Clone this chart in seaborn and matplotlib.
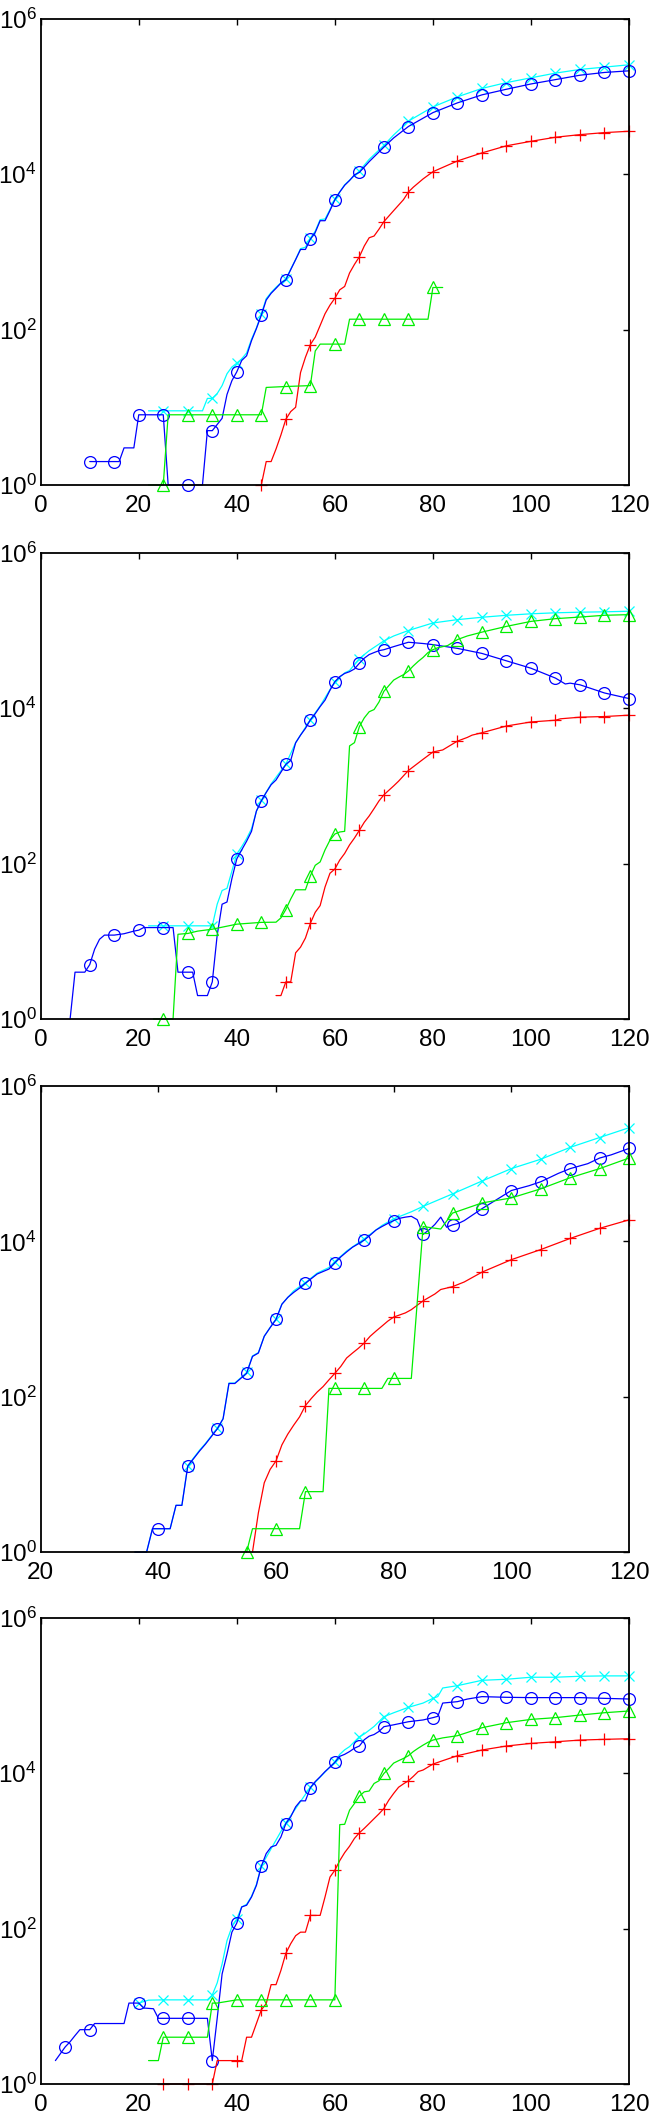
import matplotlib
matplotlib.use("Agg")
import matplotlib.pyplot as plt
import seaborn as sns

sns.set_theme(style="white")
plt.rcParams["font.family"] = ["Liberation Sans", "DejaVu Sans"]
plt.rcParams["mathtext.default"] = "regular"

# ---- panel 1 ----
p1_cyan_x = [22, 25, 30, 33, 34, 35, 36, 37, 38, 39, 40, 41, 42, 43, 44, 45, 46, 47, 48, 49, 50,
             52, 53, 54, 55, 56, 57, 58, 59, 60, 62, 65, 67, 70, 72, 75, 80, 85, 90, 95, 100, 105, 110, 115, 120]
p1_cyan_y = [9, 9, 9, 9, 13, 13, 15, 19, 27, 33, 37, 42, 50, 75, 105, 160, 250, 300, 350, 400, 450,
             800, 1100, 1150, 1500, 1850, 2600, 2650, 3500, 4800, 7300, 11000, 15500, 23500, 32000, 48200,
             73500, 99000, 127000, 151000, 174000, 200000, 223000, 239000, 256000]
p1_blue_x = [10, 15, 16, 17, 19, 20, 25, 26, 30, 33, 34, 35, 37, 38, 39, 40, 41, 42, 43, 44, 45, 46, 47,
             48, 49, 50, 51, 52, 53, 54, 55, 56, 57, 58, 59, 60, 61, 62, 63, 64, 65, 67, 70, 72, 75, 80,
             85, 90, 95, 100, 105, 110, 115, 120]
p1_blue_y = [2, 2, 2, 3, 3, 8, 8, 1, 1, 1, 5, 5, 7.2, 14.6, 22, 28.6, 40, 46, 72, 103, 153, 240, 293,
             340, 397, 437, 591, 795, 1075, 1075, 1456, 1780, 2520, 2520, 3400, 4690, 5900, 7200, 8300,
             9800, 10550, 14500, 22300, 29300, 41100, 62000, 82800, 105000, 124000, 145000, 165000,
             188000, 204000, 214000]
p1_red_x = [45, 46, 47, 48, 49, 50, 51, 52, 53, 54, 55, 56, 57, 58, 59, 60, 61, 62, 63, 64, 65, 66, 67,
            68, 69, 70, 72, 74, 75, 76, 78, 80, 85, 90, 95, 100, 105, 110, 115, 120]
p1_red_y = [1, 2, 2, 2.9, 4.4, 7, 8.8, 10, 28, 44, 64, 80, 113, 160, 206, 253, 325, 359, 535, 690, 865,
            1190, 1520, 1600, 1960, 2450, 3400, 4700, 5900, 6800, 8700, 10760, 14800, 18800, 23200,
            26500, 29900, 32300, 34300, 35700]
p1_green_x = [22, 25, 26, 30, 35, 40, 45, 46, 50, 55, 56, 57, 60, 62, 63, 65, 70, 75, 79, 80, 82]
p1_green_y = [1, 1, 8, 8, 8, 8, 8, 18, 18.5, 19, 53, 65, 65, 65, 136, 136, 136, 136, 136, 348, 348]

# ---- panel 2 ----
p2_cyan_x = [22, 25, 30, 35, 36, 37, 38, 39, 40, 41, 42, 43, 44, 45, 47, 50, 52, 55, 57, 60, 62, 63,
             65, 67, 70, 72, 75, 80, 85, 90, 95, 100, 105, 110, 115, 120]
p2_cyan_y = [15.8, 15.8, 15.8, 15.8, 30, 45, 48, 80, 133, 165, 210, 280, 470, 650, 1060, 1900, 3600,
             7100, 10700, 22000, 28500, 30500, 43600, 55000, 73500, 85000, 100000, 125000, 138000,
             148000, 157000, 164000, 169000, 172000, 174000, 177000]
p2_blue_x = [6, 7, 9, 10, 11, 12, 13, 15, 17, 19, 20, 21, 25, 27, 28, 30, 31, 32, 34, 35, 36, 37, 38,
             39, 40, 41, 42, 43, 44, 45, 46, 47, 48, 49, 50, 51, 52, 53, 54, 55, 56, 57, 58, 59, 60,
             61, 62, 63, 64, 65, 66, 67, 68, 69, 70, 72, 75, 78, 80, 85, 90, 95, 100, 105, 107, 108,
             110, 115, 120]
p2_blue_y = [1, 4, 4, 5, 7.9, 10.6, 12, 12, 12.5, 13.5, 13.9, 15, 15, 15, 4, 4, 4, 2, 2, 3, 12, 30,
             32, 64, 115, 150, 194, 260, 475, 641, 822, 1035, 1190, 1500, 1888, 2130, 3580, 4500,
             5500, 7070, 8500, 10500, 12700, 17000, 21900, 25500, 28000, 29500, 32000, 37900, 44000,
             49000, 52000, 55000, 56600, 62000, 70600, 68000, 65800, 58900, 50700, 40700, 32700,
             24400, 20500, 21000, 20000, 15700, 13300]
p2_red_x = [48, 49, 50, 51, 52, 53, 54, 55, 56, 57, 58, 59, 60, 61, 62, 63, 64, 65, 66, 67, 68, 69,
            70, 72, 73, 75, 78, 80, 82, 85, 87, 88, 90, 95, 100, 105, 106, 110, 115, 120]
p2_red_y = [2, 2, 3, 3, 7.1, 8.4, 11, 17, 23.6, 28.8, 50, 75, 85, 111, 135, 174, 213, 268, 340, 410,
            510, 640, 767, 1000, 1150, 1577, 2200, 2730, 2900, 3770, 4200, 4500, 4830, 5900, 6650,
            7000, 7300, 7660, 7810, 8130]
p2_green_x = [23, 25, 27, 28, 30, 32, 35, 40, 45, 48, 49, 50, 51, 52, 54, 55, 56, 57, 58, 59, 60, 61,
              62, 63, 64, 65, 66, 67, 68, 69, 70, 71, 72, 73, 74, 75, 76, 77, 78, 79, 80, 81, 83, 85,
              87, 90, 95, 100, 105, 110, 115, 120]
p2_green_y = [1, 1, 1, 12.3, 12.6, 13.5, 14.3, 16.6, 17.5, 17.6, 20, 25.6, 35, 46, 46, 69.5, 95, 105,
              150, 200, 240, 255, 260, 3270, 3600, 5780, 7500, 9000, 9600, 12000, 16500, 19500, 23000,
              25000, 27000, 30100, 35000, 40000, 45000, 52000, 56600, 60000, 64000, 76400, 85000,
              95300, 113000, 131000, 142000, 149000, 157000, 160000]

# ---- panel 3 ----
p3_cyan_x = [36, 38, 39, 42, 43, 44, 45, 47, 48, 50, 51, 52, 53, 54, 55, 56, 57, 58, 59, 60, 61, 63,
             65, 67, 69, 70, 72, 75, 78, 80, 83, 85, 90, 95, 100, 105, 110, 115, 120]
p3_cyan_y = [1, 1, 2, 2, 4, 4, 13, 20.5, 25, 39, 52, 150, 150, 175, 205, 335, 370, 600, 780, 1000,
             1560, 2300, 2950, 3900, 4600, 5500, 7500, 10800, 16000, 19500, 24000, 28200, 40800,
             59700, 86300, 114000, 162000, 217000, 290000]
p3_blue_x = [36, 38, 39, 40, 42, 43, 44, 45, 47, 48, 50, 51, 52, 53, 54, 55, 56, 57, 58, 59, 60, 61,
             62, 63, 64, 65, 67, 69, 70, 71, 72, 73, 74, 75, 76, 77, 78, 79, 80, 81, 82, 83, 84, 85,
             86, 87, 88, 89, 90, 91, 92, 95, 100, 103, 105, 108, 110, 113, 115, 117, 120]
p3_blue_y = [1, 1, 2, 2, 2, 4, 4, 12.8, 20, 24.5, 38.4, 52, 148, 148, 172, 200, 330, 365, 600, 775,
             990, 1550, 1900, 2200, 2500, 2890, 3800, 4400, 5310, 6300, 7300, 8400, 9300, 10400,
             12000, 14000, 15500, 17000, 18500, 19800, 20500, 21000, 19000, 12300, 14000, 16500,
             20500, 15200, 16300, 17000, 18500, 26300, 45100, 52000, 58500, 75000, 86300, 100000,
             118000, 130000, 157000]
p3_red_x = [56, 57, 58, 59, 60, 61, 62, 63, 64, 65, 66, 67, 68, 69, 70, 71, 72, 73, 74, 75, 76, 77,
            78, 79, 80, 82, 83, 85, 87, 88, 90, 92, 95, 100, 105, 110, 115, 120]
p3_red_y = [1, 3.2, 7.8, 11.6, 14.9, 24, 33, 43, 55, 77, 95, 115, 135, 165, 200, 245, 315, 365, 420,
            492, 600, 700, 810, 940, 1060, 1200, 1320, 1715, 2100, 2400, 2610, 3000, 4010, 5810,
            7840, 10900, 14700, 18900]
p3_green_x = [55, 56, 60, 64, 65, 68, 69, 70, 75, 78, 79, 80, 83, 85, 88, 90, 91, 95, 100, 105, 110,
              115, 120]
p3_green_y = [1, 2, 2, 2, 6, 6, 128, 128, 128, 128, 172, 172, 172, 15500, 14400, 23100, 24500, 31200,
              36200, 47400, 65900, 86300, 118000]

# ---- panel 4 ----
p4_cyan_x = [20, 22, 25, 30, 34, 35, 36, 37, 38, 39, 40, 41, 42, 43, 44, 45, 50, 55, 60, 61, 62, 63,
             65, 66, 68, 70, 72, 75, 78, 80, 81, 82, 85, 90, 95, 100, 105, 110, 115, 120]
p4_cyan_y = [11, 12, 12.1, 12.1, 12.1, 14, 20, 35, 70, 105, 134, 190, 205, 260, 370, 640, 2300, 6600,
             14000, 17500, 20000, 22000, 29500, 32000, 40000, 53400, 60000, 70500, 80000, 92000,
             97000, 125000, 134000, 157000, 162000, 172000, 172000, 177000, 179000, 179000]
p4_blue_x = [3, 5, 6, 7, 8, 10, 11, 17, 18, 20, 21, 23, 24, 25, 30, 34, 35, 36, 37, 38, 39, 40, 41,
             42, 43, 44, 45, 46, 47, 48, 49, 50, 51, 52, 53, 54, 55, 56, 57, 58, 59, 60, 61, 62, 63,
             64, 65, 66, 67, 68, 69, 70, 72, 75, 78, 80, 81, 82, 85, 87, 90, 95, 100, 105, 110, 115,
             120]
p4_blue_y = [2, 3, 3.5, 4.2, 5, 5, 6, 6, 11, 11, 9.5, 9.3, 7, 7, 7, 7, 2, 7, 26, 47, 90, 118, 190,
             200, 255, 360, 634, 925, 1125, 1180, 1510, 2250, 2750, 3690, 4410, 4410, 6490, 7800,
             9000, 10500, 12000, 13800, 16500, 17500, 19000, 21000, 22400, 27000, 30000, 31500,
             34500, 39700, 42000, 46000, 48500, 51900, 54000, 80000, 83400, 90000, 96800, 94900,
             94000, 94000, 94000, 92000, 90200]
p4_red_x = [25, 30, 35, 36, 40, 41, 42, 43, 44, 45, 46, 47, 48, 49, 50, 51, 52, 53, 54, 55, 57, 58,
            59, 60, 61, 62, 63, 64, 65, 66, 67, 68, 69, 70, 71, 72, 73, 74, 75, 76, 77, 78, 80, 82,
            85, 90, 95, 100, 105, 110, 115, 120]
p4_red_y = [1, 1, 1, 2, 2, 2, 4, 4, 6, 9, 10.8, 19, 19, 29, 48, 64, 81, 90, 90, 148, 148, 256, 460,
            564, 750, 950, 1150, 1450, 1710, 1950, 2250, 2600, 3000, 3510, 4500, 5500, 6600, 7300,
            7990, 9100, 10500, 11000, 13100, 14500, 16800, 19900, 22400, 24200, 25400, 26700, 27300,
            27800]
p4_green_x = [22, 24, 25, 30, 34, 35, 36, 40, 45, 50, 55, 60, 61, 62, 63, 64, 65, 66, 67, 68, 69, 70,
              71, 72, 73, 74, 75, 76, 77, 78, 79, 80, 82, 85, 90, 95, 100, 105, 110, 115, 120]
p4_green_y = [2, 2, 4, 4, 4, 11, 11, 12.1, 12.1, 12.1, 12.1, 12.1, 2180, 2200, 3340, 4080, 5070,
              5760, 5900, 7380, 8000, 9930, 11500, 13500, 14500, 15500, 16800, 19000, 21000, 23000,
              25000, 26700, 28500, 30400, 38500, 44700, 49300, 51900, 56100, 60100, 63200]

panels = [
    (0, [(p1_cyan_x, p1_cyan_y), (p1_blue_x, p1_blue_y), (p1_red_x, p1_red_y), (p1_green_x, p1_green_y)]),
    (0, [(p2_cyan_x, p2_cyan_y), (p2_blue_x, p2_blue_y), (p2_red_x, p2_red_y), (p2_green_x, p2_green_y)]),
    (20, [(p3_cyan_x, p3_cyan_y), (p3_blue_x, p3_blue_y), (p3_red_x, p3_red_y), (p3_green_x, p3_green_y)]),
    (0, [(p4_cyan_x, p4_cyan_y), (p4_blue_x, p4_blue_y), (p4_red_x, p4_red_y), (p4_green_x, p4_green_y)]),
]

styles = [
    dict(color="#00ffff", marker="x", markersize=7),
    dict(color="#0000ff", marker="o", markersize=8.5),
    dict(color="#ff0000", marker="+", markersize=9),
    dict(color="#00ee00", marker="^", markersize=8.5),
]

fig = plt.figure(figsize=(6.51, 21.14), dpi=100)
bottoms = [0.7706, 0.5180, 0.2658, 0.0142]
H = 0.2205

for (xmin, series), b in zip(panels, bottoms):
    ax = fig.add_axes([40.7 / 651, b, 588.3 / 651, H])
    for (xs, ys), st in zip(series, styles):
        mask = [x % 5 == 0 for x in xs]
        sns.lineplot(x=xs, y=ys, ax=ax, estimator=None, sort=False,
                     color=st["color"], linewidth=0.9, marker=st["marker"],
                     markersize=st["markersize"], markevery=mask,
                     markerfacecolor="none", markeredgecolor=st["color"],
                     markeredgewidth=0.9, clip_on=False)
    ax.set_yscale("log")
    ax.set_xlim(xmin, 120)
    ax.set_ylim(1, 1e6)
    ax.set_xticks(range(xmin, 121, 20))
    ax.set_yticks([1, 1e2, 1e4, 1e6])
    ax.set_yticklabels([r"$10^{0}$", r"$10^{2}$", r"$10^{4}$", r"$10^{6}$"])
    ax.minorticks_off()
    ax.tick_params(direction="in", length=4, width=1, top=True, right=True,
                   labelsize=17.5, colors="black")
    ax.tick_params(axis="x", pad=7)
    ax.tick_params(axis="y", pad=3)
    for sp in ax.spines.values():
        sp.set_color("black")
        sp.set_linewidth(1.3)
    ax.set_xlabel("")
    ax.set_ylabel("")
    ax.grid(False)

fig.savefig("out.png", dpi=100)
